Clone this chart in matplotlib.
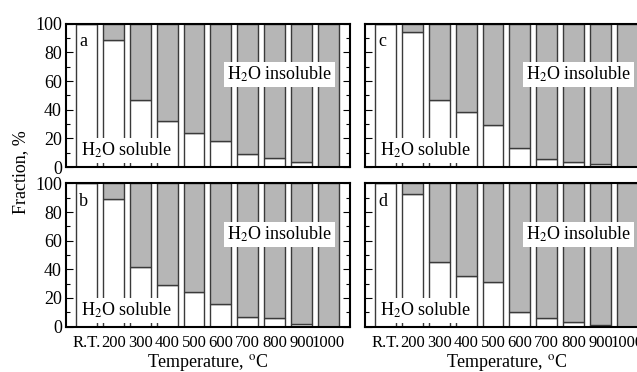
import matplotlib
matplotlib.use("Agg")
import matplotlib.pyplot as plt
from matplotlib.ticker import MultipleLocator
import numpy as np

# temperature labels (x categories)
temps = ["R.T.", "200", "300", "400", "500", "600", "700", "800", "900", "1000"]

# H2O soluble fraction, % (the rest is insoluble)
sol_a = [100, 89, 47, 32, 24, 18, 9, 6.3, 3.7, 0]
sol_b = [100, 89, 41.6, 29, 24, 15.5, 7, 5.8, 1.6, 0]
sol_c = [100, 94, 47, 38.2, 29.4, 13, 5.6, 3.5, 2.3, 0]
sol_d = [100, 92.5, 45, 35.6, 31, 10.5, 6.3, 3, 1.4, 0]

panels = ["a", "b", "c", "d"]

plt.rcParams['font.family'] = ['Liberation Serif', 'DejaVu Serif']
plt.rcParams['mathtext.fontset'] = 'stix'

GRAY = "#b6b6b6"
EDGE = "#3a3a3a"

fig = plt.figure(figsize=(6.37, 3.72), dpi=100)

W = 0.4458
H = 0.385
pos = {
    "a": [0.1036, 0.551, W, H],
    "b": [0.1036, 0.122, W, H],
    "c": [0.573, 0.551, W, H],
    "d": [0.573, 0.122, W, H],
}
data = {"a": sol_a, "b": sol_b, "c": sol_c, "d": sol_d}

x = np.arange(len(temps))
for p in panels:
    ax = fig.add_axes(pos[p])
    sol = np.array(data[p], dtype=float)
    insol = 100 - sol
    ax.bar(x, sol, width=0.78, color="white", edgecolor=EDGE, linewidth=1.0, zorder=2)
    ax.bar(x, insol, bottom=sol, width=0.78, color=GRAY, edgecolor=EDGE, linewidth=1.0, zorder=2)
    ax.set_xlim(-0.76, 9.80)
    ax.set_ylim(0, 100)

    ax.yaxis.set_major_locator(MultipleLocator(20))
    ax.yaxis.set_minor_locator(MultipleLocator(10))
    ax.tick_params(axis="y", which="both", direction="in", left=True, right=True)
    ax.tick_params(axis="y", which="major", length=5, width=0.8, labelsize=13, pad=3)
    ax.tick_params(axis="y", which="minor", length=3, width=0.8)
    ax.tick_params(axis="x", length=0, labelsize=12, pad=6)
    for s in ax.spines.values():
        s.set_linewidth(1.5)
        s.set_zorder(5)

    if p in ("c", "d"):
        ax.tick_params(axis="y", labelleft=False)
    if p in ("b", "d"):
        ax.set_xticks(x)
        ax.set_xticklabels(temps)
        ax.set_xlabel("Temperature, $^{\\rm o}$C", fontsize=13, labelpad=0.5)
    else:
        ax.set_xticks([])

    ax.text(-0.1, 87.5, p, fontsize=13, ha="center", va="center", zorder=6)
    box = dict(facecolor="white", edgecolor="none", pad=2)
    ax.text(7.18, 64.5, "H$_2$O insoluble", fontsize=13, ha="center", va="center",
            bbox=box, zorder=6)
    ax.text(1.5, 11.5, "H$_2$O soluble", fontsize=13, ha="center", va="center",
            bbox=box, zorder=6)

fig.text(0.033, 0.536, "Fraction, %", rotation=90, fontsize=13, ha="center", va="center")

fig.savefig("out.png", dpi=100)
